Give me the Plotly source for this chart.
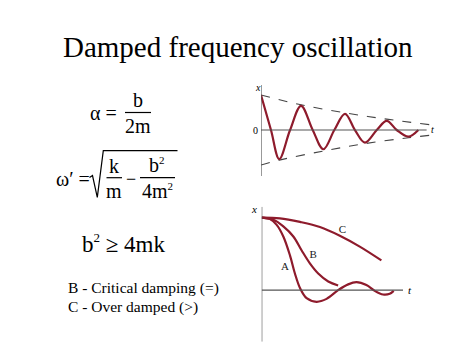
import plotly.graph_objects as go

W, H = 474, 355
RED = "#8e1b2c"
AX = "#555555"
SERIF = "Liberation Serif, Times New Roman, serif"

# ---- Top panel: underdamped oscillation ----
osc_t = [0, 0.59, 1.08, 1.72, 2.37, 3.06, 3.69, 4.34, 4.97, 5.56, 6.15, 6.85, 7.44, 8.03, 8.72, 9.31]
osc_x = [1.0, 0.0, -0.83, 0.0, 0.69, 0.0, -0.55, 0.0, 0.46, 0.0, -0.36, 0.0, 0.26, 0.0, -0.19, 0.0]
env_t = [0, 2.37, 4.97, 7.44, 10.0]
env_up = [1.0, 0.72, 0.49, 0.31, 0.15]
env_lo_t = [0, 1.08, 3.69, 6.15, 8.72, 10.0]
env_lo = [-1.0, -0.86, -0.6, -0.39, -0.22, -0.15]

# ---- Bottom panel: damping cases ----
a_t = [0, 0.59, 1.06, 1.53, 2.0, 2.35, 2.71, 3.18, 3.88, 4.59, 5.41, 6.12, 6.71, 7.41, 8.0, 8.59, 9.06, 9.34]
a_x = [1.0, 0.98, 0.90, 0.74, 0.48, 0.23, 0.03, -0.11, -0.16, -0.12, 0.0, 0.08, 0.11, 0.07, -0.01, -0.06, -0.05, -0.01]
b_t = [0, 0.82, 1.53, 2.24, 2.82, 3.41, 4.0, 4.71, 5.41]
b_x = [1.0, 0.97, 0.88, 0.74, 0.55, 0.37, 0.23, 0.12, 0.065]
c_t = [0, 1.29, 2.71, 4.12, 5.53, 6.94, 8.47]
c_x = [1.0, 0.99, 0.94, 0.87, 0.75, 0.60, 0.41]
curve_labels = ["A", "B", "C"]
label_t = [1.65, 3.65, 5.72]
label_x = [0.32, 0.48, 0.83]

fig = go.Figure()
# top panel
fig.add_trace(go.Scatter(x=env_t, y=env_up, mode="lines", line=dict(color="#444", width=1.1, dash="dash", shape="spline"), xaxis="x", yaxis="y"))
fig.add_trace(go.Scatter(x=env_lo_t, y=env_lo, mode="lines", line=dict(color="#444", width=1.1, dash="dash", shape="spline"), xaxis="x", yaxis="y"))
fig.add_trace(go.Scatter(x=osc_t, y=osc_x, mode="lines", line=dict(color=RED, width=2.2, shape="spline", smoothing=1.0), xaxis="x", yaxis="y"))
# bottom panel
for tt, xx in [(a_t, a_x), (b_t, b_x), (c_t, c_x)]:
    fig.add_trace(go.Scatter(x=tt, y=xx, mode="lines", line=dict(color=RED, width=2.2, shape="spline", smoothing=1.0), xaxis="x2", yaxis="y2"))
fig.add_trace(go.Scatter(x=label_t, y=label_x, mode="text", text=curve_labels,
                         textfont=dict(family=SERIF, size=11, color="#222"), xaxis="x2", yaxis="y2"))

def px(x):
    return x / W

def py(y):
    return 1 - y / H

hidden = dict(showgrid=False, zeroline=False, showticklabels=False, ticks="", showline=False)
fig.update_layout(
    width=W, height=H, margin=dict(l=0, r=0, t=0, b=0),
    paper_bgcolor="white", plot_bgcolor="rgba(0,0,0,0)", showlegend=False,
    xaxis=dict(domain=[px(261), px(430)], range=[0, 10], **hidden),
    yaxis=dict(domain=[py(176), py(85)], range=[-1.314, 1.286], **hidden),
    xaxis2=dict(domain=[px(261.7), px(403)], range=[0, 10], anchor="y2", **hidden),
    yaxis2=dict(domain=[py(341.7), py(206.7)], range=[-0.71, 1.15], anchor="x2", **hidden),
)

shapes = [
    # top axes
    dict(type="line", xref="x", yref="y", x0=0, x1=0, y0=-1.314, y1=1.286, line=dict(color=AX, width=1.2)),
    dict(type="line", xref="x", yref="y", x0=0, x1=9.8, y0=0, y1=0, line=dict(color=AX, width=1.2)),
    # bottom axes
    dict(type="line", xref="x2", yref="y2", x0=0, x1=0, y0=-0.71, y1=1.15, line=dict(color=AX, width=1.2)),
    dict(type="line", xref="x2", yref="y2", x0=0, x1=10, y0=0, y1=0, line=dict(color=AX, width=1.2)),
    # fraction bars
    dict(type="line", xref="paper", yref="paper", x0=px(125), x1=px(151), y0=py(112.5), y1=py(112.5), line=dict(color="black", width=1.2)),
    dict(type="line", xref="paper", yref="paper", x0=px(106.5), x1=px(122), y0=py(177.7), y1=py(177.7), line=dict(color="black", width=1.2)),
    dict(type="line", xref="paper", yref="paper", x0=px(140), x1=px(175), y0=py(177.7), y1=py(177.7), line=dict(color="black", width=1.2)),
    # radical sign
    dict(type="path", xref="paper", yref="paper",
         path=f"M {px(89.5)} {py(177.5)} L {px(92.5)} {py(175.5)} L {px(97.3)} {py(197.3)} L {px(103.3)} {py(150.7)} L {px(177.5)} {py(150.7)}",
         line=dict(color="black", width=1.2)),
]
fig.update_layout(shapes=shapes)

def txt(x, y, s, size, italic=False, anchor="center"):
    if italic:
        s = f"<i>{s}</i>"
    fig.add_annotation(x=px(x), y=py(y), xref="paper", yref="paper", text=s, showarrow=False,
                       xanchor=anchor, yanchor="middle", font=dict(family=SERIF, size=size, color="black"))

SQ = "<sup><span style='font-size:11px'>2</span></sup>"
txt(238, 47, "Damped frequency oscillation", 29)
# alpha = b/2m
txt(103.5, 112.5, "α =", 20)
txt(138, 99.5, "b", 20)
txt(138, 126.5, "2m", 20)
# omega'
txt(72.5, 179, "ω′ =", 20)
txt(113.5, 165.5, "k", 20)
txt(114, 191.5, "m", 20)
txt(131, 179, "−", 18)
txt(157, 164.5, "b" + SQ, 20)
txt(157.5, 191, "4m" + SQ, 20)
# b^2 >= 4mk
txt(124, 243, "b" + "<sup><span style='font-size:13px'>2</span></sup>" + " ≥ 4mk", 23)
txt(66, 288, "B - Critical damping (=)", 15.5, anchor="left")
txt(66, 306.5, "C - Over damped (>)", 15.5, anchor="left")
# axis labels
txt(257.5, 87.5, "x", 10, italic=True)
txt(256, 130.5, "0", 10)
txt(432.5, 130, "t", 10, italic=True)
txt(254, 209, "x", 11, italic=True)
txt(409.5, 290, "t", 11, italic=True)

fig.write_html("out.html", config={"displayModeBar": False},
               post_script="document.body.style.margin='0';document.body.style.overflow='hidden';")
